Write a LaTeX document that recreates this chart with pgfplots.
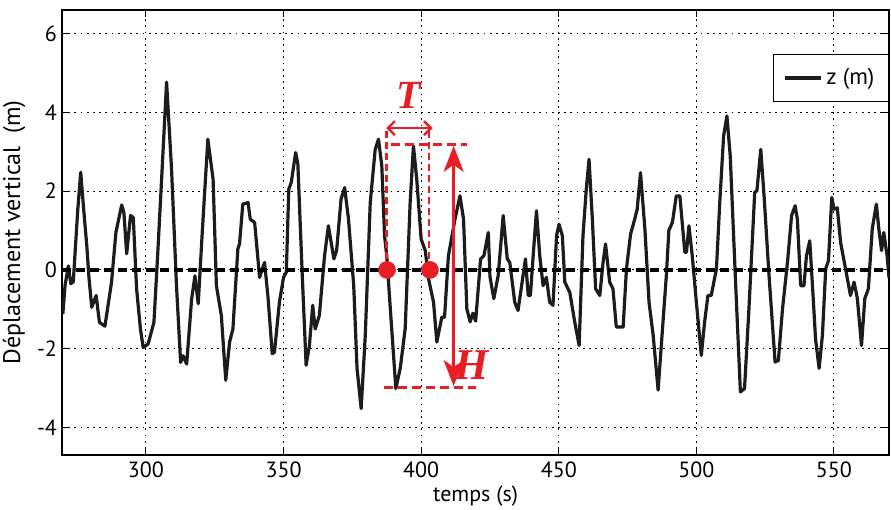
\documentclass[border=0pt]{standalone}
\usepackage{pgfplots}
\pgfplotsset{compat=1.18}
\usepackage{fontspec}
\setmainfont{PT Sans}
\newfontfamily\serifbi{Liberation Serif}
\usetikzlibrary{arrows.meta}
\definecolor{annred}{RGB}{232,30,37}
\definecolor{wave}{RGB}{28,28,28}
\begin{document}
\begin{tikzpicture}
\begin{axis}[
  scale only axis,
  width=413.5pt, height=222.5pt,
  xmin=269.5, xmax=570, ymin=-4.7, ymax=6.6,
  xtick={300,350,400,450,500,550},
  ytick={-4,-2,0,2,4,6},
  tick align=inside, tick pos=both,
  major tick length=3.5pt,
  every tick/.style={black, line width=0.5pt},
  axis line style={black, line width=0.8pt},
  grid=major,
  major grid style={black, line width=0.5pt, dash pattern=on 0.9pt off 2.2pt},
  /pgf/number format/assume math mode=true,
  ticklabel style={font=\fontsize{11}{13}\selectfont},
  yticklabel style={xshift=1pt},
  label style={font=\fontsize{11}{13}\selectfont},
  xlabel={temps (s)},
  xlabel style={yshift=3pt},
  ylabel={Déplacement vertical\ \ (m)},
  ylabel style={yshift=-1pt, font=\fontsize{12}{14}\selectfont},
  legend style={at={(1,0.902)}, anchor=north east, draw=black, line width=0.6pt,
    font=\fontsize{11.5}{13}\selectfont, inner xsep=5pt, inner ysep=5pt},
  legend cell align=left,
  legend image code/.code={\draw[#1] (0pt,0pt) -- (18pt,0pt);},
  clip=true,
]
\addplot[wave, line width=1.6pt, line join=round] coordinates {
(269.8,-1.12) (270.6,-0.4) (271.8,0.1) (272.7,-0.35) (273.6,-0.3) (275.2,1.5)
(276.3,2.48) (277.3,1.6) (278.5,0.62) (279.3,-0.2) (280.3,-0.95) (281.9,-0.65)
(283.1,-1.33) (285.1,-1.43) (287.5,-0.31) (289.1,0.96) (291.2,1.65) (292.0,1.45)
(293.0,0.41) (294.4,1.38) (295.4,1.33) (296.6,-0.48) (298.0,-1.5) (299.0,-1.97)
(300.8,-1.88) (302.9,-1.33) (304.2,0.3) (305.7,2.31) (307.5,4.77) (309.3,2.57)
(311.1,-0.4) (312.6,-2.35) (313.5,-2.18) (314.8,-2.39) (316.6,-0.74) (317.8,-0.15)
(319.0,-0.86) (320.5,1.0) (322.5,3.32) (324.4,2.3) (325.6,-0.4) (327.4,-1.16)
(329.0,-2.8) (330.4,-1.83) (331.6,-1.5) (333.4,0.53) (334.0,0.66) (335.2,1.67)
(337.1,1.71) (337.9,1.29) (339.5,1.2) (341.3,-0.19) (343.1,0.19) (344.3,-0.65)
(345.9,-2.13) (346.7,-2.09) (348.5,-0.82) (350.0,-0.19) (351.0,-0.06) (351.9,2.05)
(352.8,2.22) (354.4,2.98) (355.2,2.69) (356.8,-0.14) (358.2,-2.42) (359.4,-1.92)
(360.6,-0.9) (361.5,-1.5) (363.0,-1.16) (364.9,0.36) (366.3,1.12) (368.3,0.28)
(369.3,0.5) (370.9,1.8) (372.2,2.09) (373.6,1.29) (375.5,-0.4) (376.7,-2.5)
(378.2,-3.52) (379.7,-1.66) (381.5,1.71) (383.3,3.06) (384.5,3.32) (385.7,2.65)
(386.7,0.87) (387.5,0.36) (388.8,-0.99) (390.8,-3.01) (392.4,-2.5) (394.2,-1.49)
(396.0,1.71) (397.2,3.15) (398.4,2.3) (400.0,0.78) (401.5,0.49) (402.7,-0.23)
(404.5,-0.82) (405.7,-1.83) (407.5,-1.2) (408.5,-1.2) (409.9,0.36) (412.3,1.29)
(414.1,1.88) (415.4,1.29) (416.6,-0.99) (417.8,-1.32) (418.8,-1.1) (419.8,-1.3)
(421.6,0.28) (422.8,0.36) (424.4,0.95) (425.0,-0.17) (426.4,-0.73) (428.0,-0.14)
(429.8,1.38) (431.3,0.28) (432.2,0.19) (434.0,-0.82) (435.2,-1.03) (436.5,-0.4)
(437.9,0.28) (438.9,-0.65) (439.7,-0.65) (440.7,0.36) (441.9,1.5) (443.1,0.36)
(444.3,-0.4) (445.5,-0.19) (446.7,-0.82) (447.9,-0.9) (449.2,0.87) (450.1,1.16)
(451.3,0.87) (452.2,-0.31) (454.0,-0.57) (455.8,-1.32) (457.4,-1.92) (458.8,0.87)
(460.0,2.05) (461.0,2.81) (462.2,1.29) (463.4,-0.48) (464.9,-0.65) (466.1,0.19)
(467.0,0.66) (468.5,-0.31) (469.7,-0.48) (470.9,-1.45) (473.4,-1.45) (474.6,0.03)
(476.1,0.91) (477.6,1.29) (478.5,1.54) (479.7,2.47) (481.3,1.04) (482.8,-0.82)
(484.3,-1.66) (486.1,-3.05) (487.7,-1.49) (489.1,-0.14) (490.0,1.0) (491.3,1.21)
(492.7,1.88) (494.0,1.88) (495.8,0.45) (496.4,0.45) (497.3,1.12) (498.5,0.36)
(500.0,-0.82) (501.8,-2.17) (503.0,-1.32) (504.2,-0.65) (505.4,-0.65) (507.3,0.03)
(508.5,1.71) (509.9,3.4) (511.1,3.91) (512.3,2.9) (514.3,-0.4) (516.0,-3.1)
(517.5,-3.01) (519.1,-0.99) (521.2,1.97) (522.0,2.01) (523.4,3.06) (524.6,1.88)
(526.4,-0.14) (528.6,-2.34) (529.8,-2.3) (531.3,-0.99) (533.1,0.19) (534.6,1.38)
(535.9,1.63) (536.7,1.29) (537.9,-0.4) (539.1,-0.4) (540.0,0.36) (541.2,0.74)
(542.4,-0.65) (543.3,-1.75) (544.6,-2.5) (545.8,-1.66) (547.0,0.03) (548.0,0.24)
(549.2,1.84) (550.0,1.54) (551.2,1.58) (552.4,0.7) (554.2,0.03) (556.0,-0.65)
(557.3,-0.31) (558.5,-0.73) (560.0,-1.92) (561.2,-0.73) (562.5,-0.48) (563.9,1.04)
(565.4,1.67) (566.3,1.04) (567.3,0.49) (568.1,0.95) (569.3,0.36) (570.0,-0.2)
};
\addlegendentry{z (m)}
% zero-crossing points
\addplot[only marks, mark=*, mark size=4.2pt, annred, forget plot] coordinates {(387.6,0) (403.2,0)};
% zero line
\addplot[black, line width=2pt, dash pattern=on 4.5pt off 2.5pt, forget plot] coordinates {(269.5,0) (570,0)};
% T construction
\addplot[annred, line width=1.3pt, dash pattern=on 3.5pt off 2pt, forget plot] coordinates {(387.3,0) (387.3,3.62)};
\addplot[annred, line width=1.3pt, dash pattern=on 3.5pt off 2pt, forget plot] coordinates {(402.8,0) (402.8,3.62)};
\addplot[annred, line width=1.2pt, {Straight Barb[length=3.5pt,width=7pt]}-{Straight Barb[length=3.5pt,width=7pt]}, forget plot] coordinates {(387.3,3.6) (404.2,3.6)};
% H construction
\addplot[annred, line width=1.3pt, dash pattern=on 4.5pt off 2.5pt, forget plot] coordinates {(389,3.18) (416.5,3.18)};
\addplot[annred, line width=1.3pt, dash pattern=on 4.5pt off 2.5pt, forget plot] coordinates {(386.5,-2.98) (419.8,-2.98)};
\addplot[annred, line width=1.2pt, {Stealth[length=13pt,width=10pt,inset=3.5pt]}-{Stealth[length=13pt,width=10pt,inset=3.5pt]}, forget plot] coordinates {(411.8,3.15) (411.8,-2.95)};
\node[annred, font=\serifbi\fontsize{20}{20}\selectfont\bfseries\itshape] at (axis cs:395.4,4.42) {T};
\node[annred, font=\serifbi\fontsize{22}{22}\selectfont\bfseries\itshape] at (axis cs:418.2,-2.42) {H};
\end{axis}
\pgfresetboundingbox
\path ([shift={(-31pt,-27pt)}]current axis.south west) rectangle ([shift={(1pt,5pt)}]current axis.north east);
\end{tikzpicture}
\end{document}
